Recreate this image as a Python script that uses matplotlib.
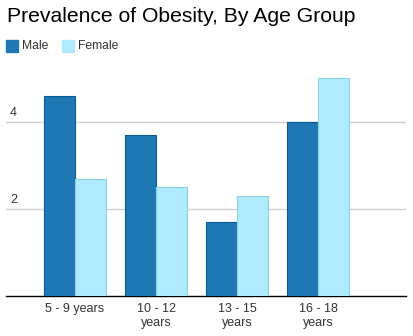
import numpy as np
import matplotlib
matplotlib.use('Agg')
import matplotlib.pyplot as plt
import matplotlib.transforms as mtransforms

plt.rcParams['font.family'] = ['Liberation Sans', 'DejaVu Sans']

categories = ['5 - 9 years', '10 - 12\nyears', '13 - 15\nyears', '16 - 18\nyears']
male = [4.6, 3.7, 1.7, 4.0]
female = [2.7, 2.5, 2.3, 5.0]
yticks = [2, 4]

male_color = '#1f78b4'
male_edge = '#0b5a94'
female_color = '#b0ebfd'
female_edge = '#86d3ea'

fig = plt.figure(figsize=(4.13, 3.36), dpi=100)
ax = fig.add_axes([6 / 413, 40 / 336, 400 / 413, 231 / 336])

x = np.arange(len(categories))
w = 0.383
ax.bar(x - w / 2, male, w, color=male_color, edgecolor=male_edge, linewidth=0.8, zorder=3)
ax.bar(x + w / 2, female, w, color=female_color, edgecolor=female_edge, linewidth=0.8, zorder=3)

ax.set_xlim(-0.852, 4.085)
ax.set_ylim(0, 5.31)

for t in yticks:
    ax.axhline(t, color='#d0d0d0', linewidth=1, zorder=1)
    trans = mtransforms.blended_transform_factory(ax.transAxes, ax.transData)
    ax.text(0.01, t + 0.08, str(t), transform=trans, fontsize=9, color='#333333',
            ha='left', va='bottom')

ax.set_yticks([])
ax.set_xticks(x)
ax.set_xticklabels(categories, fontsize=9, color='#333333', linespacing=1.25)
ax.tick_params(axis='x', length=0, pad=5)
for s in ['top', 'right', 'left']:
    ax.spines[s].set_visible(False)
ax.spines['bottom'].set_color('black')
ax.spines['bottom'].set_linewidth(1)

fig.text(7 / 413, 1 - 17 / 336, 'Prevalence of Obesity, By Age Group', fontsize=15.2,
         color='black', ha='left', va='center')

# legend
fig.patches.append(plt.Rectangle((6 / 413, 1 - 52 / 336), 12 / 413, 12 / 336,
                                 transform=fig.transFigure, color=male_color))
fig.text(22 / 413, 1 - 46 / 336, 'Male', fontsize=8.7, color='#333333', va='center')
fig.patches.append(plt.Rectangle((62 / 413, 1 - 52 / 336), 12 / 413, 12 / 336,
                                 transform=fig.transFigure, color=female_color))
fig.text(78 / 413, 1 - 46 / 336, 'Female', fontsize=8.7, color='#333333', va='center')

fig.savefig('out.png', dpi=100)
